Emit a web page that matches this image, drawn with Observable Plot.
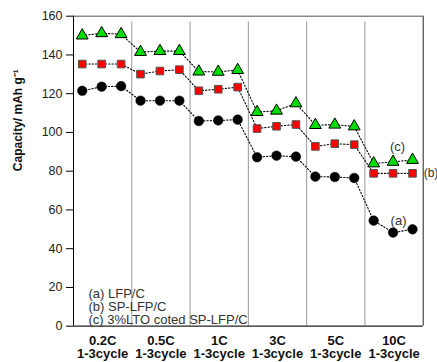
<!DOCTYPE html>
<html>
<head>
<meta charset="utf-8">
<script src="https://cdn.jsdelivr.net/npm/d3@7"></script>
<script src="https://cdn.jsdelivr.net/npm/@observablehq/plot@0.6"></script>
<style>
  html, body { margin: 0; padding: 0; background: #fff; }
  svg { font-family: "Liberation Sans", Arial, sans-serif; }
</style>
</head>
<body>
<div id="chart"></div>
<script>
// Categories (C-rates), each measured for cycles 1-3
const rates = ["0.2C", "0.5C", "1C", "3C", "5C", "10C"];
const cycleLabel = "1-3cycle";
const cycles = [1, 2, 3];

// (a) LFP/C  – black circles
const seriesA = [121.5, 123.6, 123.9, 116.4, 116.4, 116.4, 105.9, 106.2, 106.6,
                 87.2, 88.0, 87.5, 77.2, 77.0, 76.5, 54.5, 48.3, 50.0];
// (b) SP-LFP/C – red squares
const seriesB = [135.3, 135.3, 135.3, 130.1, 131.7, 132.4, 121.5, 122.3, 123.4,
                 102.0, 103.2, 104.1, 92.8, 94.2, 93.7, 78.9, 78.9, 78.9];
// (c) 3%LTO coted SP-LFP/C – green triangles
const seriesC = [150.0, 151.2, 150.7, 141.5, 142.0, 142.0, 131.4, 131.3, 132.2,
                 110.5, 111.2, 115.0, 103.8, 104.0, 103.1, 84.0, 84.8, 85.8];

const legendLines = ["(a) LFP/C", "(b) SP-LFP/C", "(c) 3%LTO coted SP-LFP/C"];
const yTicks = [0, 20, 40, 60, 80, 100, 120, 140, 160];

// annotation labels near the 10C group
const centeredNotes = [
  {label: "(c)", x: 16.68, y: 92.7},
  {label: "(a)", x: 16.73, y: 54.6}
];
const sideNotes = [{label: "(b)", x: 18.0, y: 78.9}];

// build table: position index across all 18 measurements
const toRows = (vals) => vals.map((v, i) => ({
  pos: Math.floor(i / 3) * 3 + (i % 3) + 0.45,
  value: v,
  rate: rates[Math.floor(i / 3)],
  cycle: cycles[i % 3]
}));
const rowsA = toRows(seriesA), rowsB = toRows(seriesB), rowsC = toRows(seriesC);
const groups = rates.map((r, g) => ({rate: r, center: g * 3 + 1.5}));
const separators = rates.slice(1).map((r, g) => (g + 1) * 3);

const dotted = {x: "pos", y: "value", stroke: "black", strokeWidth: 1.1, strokeDasharray: "1.3,2"};

const chart = Plot.plot({
  width: 437,
  height: 362,
  marginLeft: 73,
  marginRight: 14.3,
  marginTop: 15.7,
  marginBottom: 36.3,
  style: {fontFamily: '"Liberation Sans", Arial, sans-serif', background: "white"},
  x: {domain: [0, 18], axis: null},
  y: {domain: [0, 160], ticks: yTicks, tickSize: 7, tickPadding: 4, label: null,
      tickFormat: d3.format("d")},
  marks: [
    // frame
    Plot.ruleY([160], {stroke: "#555", strokeWidth: 1}),
    Plot.ruleX([18], {stroke: "#222", strokeWidth: 1}),
    Plot.ruleX(separators, {y1: 0, y2: 157, stroke: "#999", strokeWidth: 1}),
    Plot.ruleX([0], {stroke: "black", strokeWidth: 1}),
    Plot.ruleY([0], {stroke: "#222", strokeWidth: 1.2}),
    Plot.axisY({ticks: yTicks, tickSize: 7, tickPadding: 4, fontSize: 12.5, label: null, stroke: "black", color: "#222"}),
    // dotted connecting lines
    Plot.line(rowsA, dotted),
    Plot.line(rowsB, dotted),
    Plot.line(rowsC, dotted),
    // markers
    Plot.dot(rowsA, {x: "pos", y: "value", symbol: "circle", r: 4.8, fill: "black", stroke: "black", strokeWidth: 0.5}),
    Plot.dot(rowsB, {x: "pos", y: "value", symbol: "square", r: 4.3, fill: "#ff0000", stroke: "#555", strokeWidth: 1}),
    Plot.dot(rowsC, {x: "pos", y: "value", symbol: "triangle", r: 4.4, fill: "#00dd00", stroke: "black", strokeWidth: 1}),
    // x category labels
    Plot.text(groups, {x: "center", y: 0, text: "rate", dy: 14.5, fontWeight: "bold", fontSize: 13, fill: "#111"}),
    Plot.text(groups, {x: "center", y: 0, text: () => cycleLabel, dy: 27.5, fontWeight: "bold", fontSize: 13, fill: "#111"}),
    // annotations
    Plot.text(centeredNotes, {x: "x", y: "y", text: "label", textAnchor: "middle", fontSize: 13, fill: "#333"}),
    Plot.text(sideNotes, {x: "x", y: "y", text: "label", textAnchor: "start", dx: 0.5, fontSize: 12, fill: "#333"}),
    // legend text
    Plot.text([legendLines.join("\n")], {frameAnchor: "bottom-left", dx: 15, dy: -19, lineAnchor: "middle", lineHeight: 1, textAnchor: "start", fontSize: 13, fill: "#333"}),
    // y label
    Plot.text(["Capacity/ mAh g⁻¹"], {frameAnchor: "left", dx: -55, rotate: -90, fontWeight: "bold", fontSize: 12, fill: "#111"})
  ]
});
document.getElementById("chart").appendChild(chart);
</script>
</body>
</html>
